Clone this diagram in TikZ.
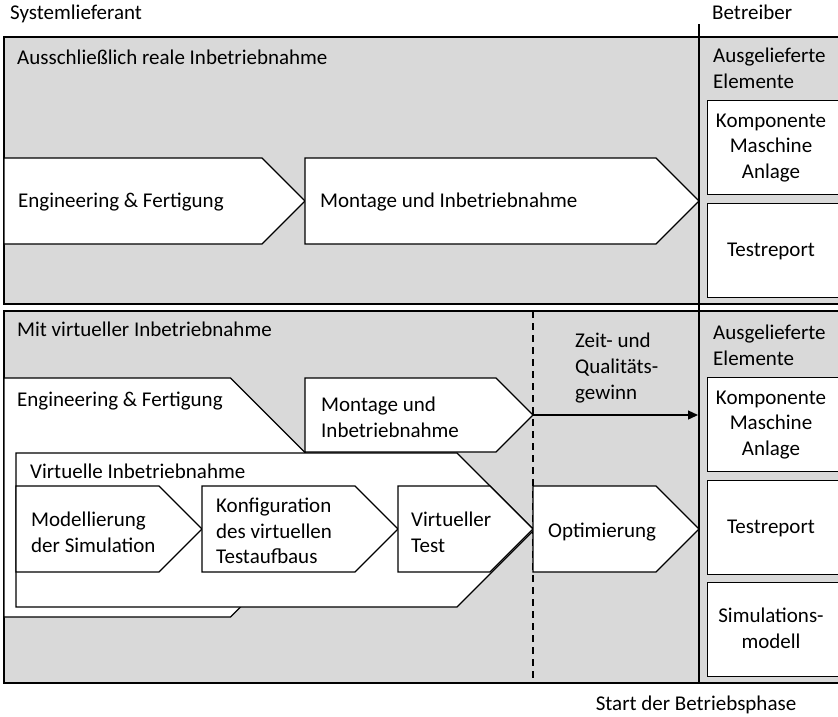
\documentclass[tikz,border=0pt]{standalone}
\usepackage{fontspec}
\setmainfont{Carlito}
\usetikzlibrary{arrows.meta}
\definecolor{lanegray}{HTML}{D9D9D9}
% pentagon: name of tip, left, top, tip x, bottom
\newcommand{\chevron}[5]{%
  \draw[chev] (#2,#3) -- ({#4-(#5-#3)/2},#3) -- (#4,{(#3+#5)/2})
    -- ({#4-(#5-#3)/2},#5) -- (#2,#5) -- cycle;
  \coordinate (#1) at (#4,{(#3+#5)/2});}

\begin{document}
\begin{tikzpicture}[x=1pt,y=-1pt,font=\fontsize{21}{25.7}\selectfont]
        %
        % `lane' is the grey background of each case.
        % `chev' is used for the process steps, `item' for the delivered parts.
        \tikzstyle{lane} = [draw=black,fill=lanegray,line width=1.8pt]
        \tikzstyle{chev} = [draw=black,fill=white,line width=1.3pt,line join=miter]
        \tikzstyle{item} = [draw=black,fill=white,line width=1.3pt,anchor=north west,minimum width=140pt,minimum height=94pt]
        \tikzstyle{txt} = [inner sep=0pt,align=left]
        \useasboundingbox (0,0) rectangle (838,716);
        %
        % Headings
        \node[txt,anchor=base west] (lieferant) at (10,19) {Systemlieferant};
        \node[txt,anchor=base west] (betreiber) at (712,19) {Betreiber};
        \node[txt,anchor=base] (start) at (696,710) {Start der Betriebsphase};
        %
        % Lanes
        \draw[lane] (4,37) rectangle (850,304);
        \draw[lane] (4,311) rectangle (850,683);
        \draw[dashed,line width=1.2pt,dash pattern=on 7pt off 5pt] (533,311) -- (533,683);
        %
        % Upper lane
        \node[txt,anchor=base west] (real) at (17,64) {Ausschließlich reale Inbetriebnahme};
        \chevron{eng1tip}{4}{158}{305}{244}
        \chevron{mont1tip}{305}{158}{699}{244}
        \node[txt,anchor=base west] (eng1) at (18,207) {Engineering \& Fertigung};
        \node[txt,anchor=base west] (mont1) at (320,207) {Montage und Inbetriebnahme};
        \node[txt,anchor=west] (elem1) at (713,68) {Ausgelieferte\\Elemente};
        \node[item] (komp1) at (707,100) {};
        \node[item] (test1) at (707,203) {};
        \node[txt,align=center] (komp1txt) at (771,148) {Komponente\\Maschine\\Anlage};
        \node[txt,anchor=base] (test1txt) at (771,256) {Testreport};
        %
        % Lower lane
        \node[txt,anchor=base west] (virtuell) at (17,336) {Mit virtueller Inbetriebnahme};
        \chevron{eng2tip}{4}{378}{350}{617}
        \chevron{mont2tip}{305}{378}{533}{452}
        \chevron{vibntip}{16}{453}{534}{607}
        \chevron{modtip}{16}{486}{202}{572}
        \chevron{konftip}{202}{486}{398}{572}
        \chevron{vtesttip}{398}{486}{533}{572}
        \chevron{opttip}{533}{486}{699}{572}
        \node[txt,anchor=base west] (eng2) at (17,406) {Engineering \& Fertigung};
        \node[txt,anchor=west] (mont2) at (321,417) {Montage und\\Inbetriebnahme};
        \node[txt,anchor=base west] (vibn) at (30,478) {Virtuelle Inbetriebnahme};
        \node[txt,anchor=west] (mod) at (31,532) {Modellierung\\der Simulation};
        \node[txt,anchor=west] (konf) at (216,531) {Konfiguration\\des virtuellen\\Testaufbaus};
        \node[txt,anchor=west] (vtest) at (411,532) {Virtueller\\Test};
        \node[txt,anchor=base west] (opt) at (548,537) {Optimierung};
        %
        % Gain
        \coordinate (gewinnend) at (698,415);
        \draw[line width=1.3pt,-{Triangle[length=10pt,width=9pt]}] (mont2tip) -- (gewinnend);
        \node[txt,anchor=west] (gewinn) at (575,368) {Zeit- und\\Qualitäts-\\gewinn};
        \node[txt,anchor=west] (elem2) at (713,345) {Ausgelieferte\\Elemente};
        \node[item] (komp2) at (707,377) {};
        \node[item] (test2) at (707,480) {};
        \node[item] (sim2) at (707,582) {};
        \node[txt,align=center] (komp2txt) at (771,425) {Komponente\\Maschine\\Anlage};
        \node[txt,anchor=base] (test2txt) at (771,533) {Testreport};
        \node[txt,align=center] (sim2txt) at (771,628) {Simulations-\\modell};
        %
        % Divider
        \draw[line width=1.8pt] (699,24) -- (699,683);
        %
\end{tikzpicture}
\end{document}
